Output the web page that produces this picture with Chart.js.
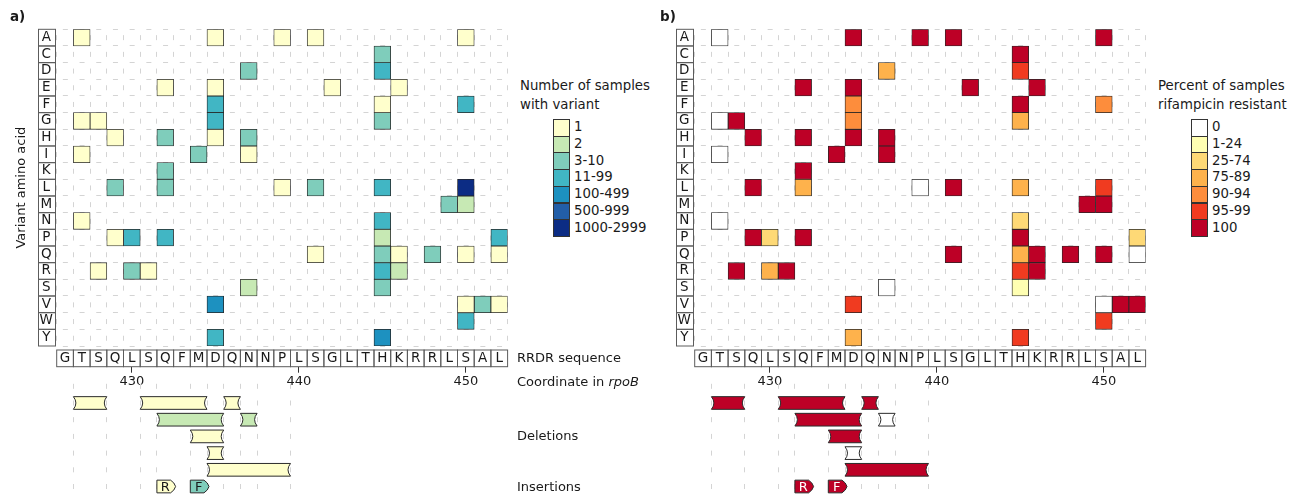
<!DOCTYPE html>
<html lang="en">
<head>
<meta charset="UTF-8">
<title>rpoB RRDR variants</title>
<script src="https://cdn.jsdelivr.net/npm/chart.js"></script>
<style>
  body { margin: 0; background: #fff; }
  #fig { position: relative; width: 1299px; height: 497px; overflow: hidden; background: #fff;
         font-family: 'DejaVu Sans', sans-serif; color: #1a1a1a; }
  #fig canvas { position: absolute; }
  .txt { position: absolute; font-size: 13px; white-space: nowrap; }
  .tag { font-weight: bold; }
  .swatch { position: absolute; width: 17.3px; height: 17.7px; box-sizing: border-box; border: 1px solid #333; }
</style>
</head>
<body>
<div id="fig"></div>
<script>
// ---- data ----
const aminoAcids = ['A','C','D','E','F','G','H','I','K','L','M','N','P','Q','R','S','V','W','Y'];
const rrdrSeq = ['G','T','S','Q','L','S','Q','F','M','D','Q','N','N','P','L','S','G','L','T','H','K','R','R','L','S','A','L'];
const firstCoord = 426;
const coordTicks = [430, 440, 450];

const countLabels = ['1', '2', '3-10', '11-99', '100-499', '500-999', '1000-2999'];
const countColors = ['#ffffcc', '#c7e9b4', '#7fcdbb', '#41b6c4', '#1d91c0', '#225ea8', '#0c2c84'];
const resistLabels = ['0', '1-24', '25-74', '75-89', '90-94', '95-99', '100'];
const resistColors = ['#ffffff', '#ffffb2', '#fed976', '#feb24c', '#fd8d3c', '#f03b20', '#bd0026'];

// substitutions, one entry per cell (bins index into the label lists above)
const subAA = [
  'A','A','A','A','A', 'C', 'D','D', 'E','E','E','E', 'F','F','F', 'G','G','G','G',
  'H','H','H','H', 'I','I','I', 'K', 'L','L','L','L','L','L', 'M','M', 'N','N',
  'P','P','P','P','P', 'Q','Q','Q','Q','Q','Q', 'R','R','R','R','R', 'S','S',
  'V','V','V','V', 'W', 'Y','Y'];
const subPos = [
  427,435,439,441,450, 445, 437,445, 432,435,442,446, 435,445,450, 427,428,435,445,
  429,432,435,437, 427,434,437, 432, 429,432,439,441,445,450, 449,450, 427,445,
  429,430,432,445,452, 441,445,446,448,450,452, 428,430,431,445,446, 437,445,
  435,450,451,452, 450, 435,445];
const subCount = [
  0,0,0,0,0, 2, 2,3, 0,0,0,0, 3,0,3, 0,0,3,2,
  0,2,0,2, 0,2,0, 2, 2,2,0,2,3,6, 2,1, 0,3,
  0,3,3,1,3, 0,2,0,2,0,0, 0,2,0,3,1, 1,2,
  4,0,2,0, 3, 3,4];
const subResist = [
  0,6,6,6,6, 6, 3,5, 6,6,6,6, 4,6,4, 0,6,4,3,
  6,6,6,6, 0,6,6, 6, 6,3,0,6,3,5, 6,6, 0,2,
  6,2,6,6,2, 6,3,6,6,6,0, 6,3,6,5,6, 0,1,
  5,0,6,6, 5, 3,5];

// deletions (first..last deleted residue) and insertions
const delFrom = [427, 431, 436, 432, 437, 434, 435, 435];
const delTo = [428, 434, 436, 435, 437, 435, 435, 439];
const delRow = [1, 1, 1, 2, 2, 3, 4, 5];
const delCount = [0, 0, 0, 1, 1, 0, 0, 0];
const delResist = [6, 6, 6, 6, 0, 6, 0, 6];
const insPos = [432, 434];
const insAA = ['R', 'F'];
const insRow = 6;
const insCount = [0, 2];
const insResist = [6, 6];

// ---- drawing ----
Chart.defaults.font.family = "'DejaVu Sans', sans-serif";
Chart.defaults.font.size = 13;
Chart.defaults.color = '#1a1a1a';

const fig = document.getElementById('fig');
const GRID = '#d4d4d4';
const darkFills = ['#bd0026', '#f03b20', '#1d91c0', '#225ea8', '#0c2c84'];

// gray boxes around the amino acid and sequence tick labels
const boxedTicks = {
  id: 'boxedTicks',
  afterDraw(chart) {
    const ctx = chart.ctx;
    const xs = chart.scales.x, ys = chart.scales.y;
    const rowH = Math.abs(ys.getPixelForValue(1) - ys.getPixelForValue(0));
    const colW = Math.abs(xs.getPixelForValue(firstCoord + 1) - xs.getPixelForValue(firstCoord));
    ctx.save();
    ctx.strokeStyle = '#5c5c5c';
    ctx.lineWidth = 1;
    const bx = Math.round(chart.chartArea.left - 19) + 0.5;
    ys.ticks.forEach((t, i) => {
      ctx.strokeRect(bx, ys.getPixelForTick(i) - rowH / 2, 17, rowH);
    });
    xs.ticks.forEach((t, i) => {
      ctx.strokeRect(xs.getPixelForTick(i) - colW / 2, xs.top + 4, colW, colW);
    });
    ctx.restore();
  }
};

// notched deletion bars and arrow-shaped insertions
const indelShapes = {
  id: 'indelShapes',
  beforeDatasetDraw(chart, args) {
    const ds = chart.data.datasets[args.index];
    if (!ds.shape) return;
    const ctx = chart.ctx;
    ctx.save();
    args.meta.data.forEach((el, i) => {
      const {x, y, base, height} = el.getProps(['x', 'y', 'base', 'height'], true);
      const l = Math.min(x, base), r = Math.max(x, base);
      const t = y - height / 2, b = y + height / 2;
      ctx.beginPath();
      if (ds.shape === 'deletion') {
        ctx.moveTo(l, t);
        ctx.lineTo(r, t);
        ctx.quadraticCurveTo(r - 5, y, r, b);
        ctx.lineTo(l, b);
        ctx.quadraticCurveTo(l + 5, y, l, t);
      } else {
        ctx.moveTo(l, t);
        ctx.lineTo(r - 3, t);
        ctx.quadraticCurveTo(r + 1, t + height * 0.2, r + 2, y);
        ctx.quadraticCurveTo(r + 1, b - height * 0.2, r - 3, b);
        ctx.lineTo(l, b);
      }
      ctx.closePath();
      ctx.fillStyle = el.options.backgroundColor;
      ctx.fill();
      ctx.strokeStyle = '#2b2b2b';
      ctx.lineWidth = 1;
      ctx.stroke();
      if (ds.shape === 'insertion') {
        ctx.fillStyle = darkFills.includes(el.options.backgroundColor) ? '#ffffff' : '#1a1a1a';
        ctx.font = "13px 'DejaVu Sans', sans-serif";
        ctx.textAlign = 'center';
        ctx.textBaseline = 'middle';
        ctx.fillText(ds.aa[i], (l + r) / 2, y + 1);
      }
    });
    ctx.restore();
    return false;
  }
};

function addText(html, x, cy, opts = {}) {
  const d = document.createElement('div');
  d.className = 'txt' + (opts.cls ? ' ' + opts.cls : '');
  d.innerHTML = html;
  const lh = 16;
  d.style.left = x + 'px';
  d.style.top = (cy - lh / 2) + 'px';
  d.style.lineHeight = lh + 'px';
  if (opts.size) d.style.fontSize = opts.size + 'px';
  fig.appendChild(d);
}

function addCanvas(left, top, w, h) {
  const c = document.createElement('canvas');
  c.width = w; c.height = h;
  c.style.left = left + 'px'; c.style.top = top + 'px';
  c.style.width = w + 'px'; c.style.height = h + 'px';
  fig.appendChild(c);
  return c;
}

function buildPanel(p) {
  // heatmap + sequence row + coordinate axis
  const cellSets = p.labels.map((lab, k) => ({
    label: lab,
    backgroundColor: p.colors[k],
    data: subPos.map((pos, i) => {
      const r = aminoAcids.indexOf(subAA[i]);
      return {x: pos, y: [r - 0.5, r + 0.5], bin: p.subBins[i]};
    }).filter(d => d.bin === k)
  }));

  new Chart(addCanvas(p.dx, 0, 520, 400), {
    type: 'bar',
    data: {datasets: cellSets},
    options: {
      responsive: false,
      animation: false,
      events: [],
      layout: {padding: {left: 0, top: 29.3, right: 12.4, bottom: 8}},
      datasets: {bar: {grouped: false, barPercentage: 1, categoryPercentage: 1,
        borderWidth: 0.8, borderColor: '#262626', borderSkipped: false}},
      plugins: {legend: {display: false}, tooltip: {enabled: false}},
      scales: {
        x: {
          type: 'linear', min: 425.5, max: 452.5, offset: false, weight: 0,
          afterBuildTicks: s => { s.ticks = rrdrSeq.map((_, i) => ({value: firstCoord + i})); },
          afterFit: s => { s.height = 20.7; },
          ticks: {autoSkip: false, maxRotation: 0, padding: 4.2, font: {size: 13.5},
            callback: v => rrdrSeq[v - firstCoord]},
          grid: {offset: true, drawTicks: false, color: GRID},
          border: {display: false, dash: [5, 11.7], dashOffset: 10.85}
        },
        xc: {
          type: 'linear', position: 'bottom', axis: 'x', min: 425.5, max: 452.5, offset: false, weight: 1,
          afterBuildTicks: s => { s.ticks = coordTicks.map(v => ({value: v})); },
          afterFit: s => { s.height = 25.3; },
          ticks: {autoSkip: false, maxRotation: 0, padding: 1.2},
          grid: {offset: false, drawOnChartArea: false, tickLength: 6, tickColor: '#333'},
          border: {display: false}
        },
        y: {
          type: 'linear', reverse: true, min: -0.5, max: 18.5, offset: false,
          afterBuildTicks: s => { s.ticks = aminoAcids.map((_, i) => ({value: i})); },
          afterFit: s => { s.width = 56.7; },
          ticks: {autoSkip: false, crossAlign: 'center', padding: 3.75, font: {size: 13.5},
            callback: v => aminoAcids[v]},
          grid: {offset: true, drawTicks: false, color: GRID},
          border: {display: false, dash: [5, 11.7], dashOffset: 10.85},
          title: {display: !!p.yTitle, text: p.yTitle || '', padding: {top: 14.2, bottom: 0}, font: {size: 13}}
        }
      }
    },
    plugins: [boxedTicks]
  });

  // deletions and insertions
  new Chart(addCanvas(p.dx, 375, 520, 122), {
    type: 'bar',
    data: {datasets: [
      {
        shape: 'deletion',
        data: delFrom.map((s, i) => ({y: delRow[i], x: [s - 0.5, delTo[i] + 0.5]})),
        backgroundColor: p.delBins.map(b => p.colors[b])
      },
      {
        shape: 'insertion',
        aa: insAA,
        data: insPos.map(pos => ({y: insRow, x: [pos - 0.5, pos + 0.5]})),
        backgroundColor: p.insBins.map(b => p.colors[b])
      }
    ]},
    options: {
      indexAxis: 'y',
      responsive: false,
      animation: false,
      events: [],
      layout: {padding: {left: 56.7, top: 6, right: 12.4, bottom: 3}},
      datasets: {bar: {grouped: false, barPercentage: 0.76, categoryPercentage: 1}},
      plugins: {legend: {display: false}, tooltip: {enabled: false}},
      scales: {
        x: {
          type: 'linear', position: 'top', min: 425.5, max: 452.5, offset: false,
          afterBuildTicks: s => {
            const edges = [...new Set(delFrom.map(v => v - 0.5).concat(delTo.map(v => v + 0.5)))];
            s.ticks = edges.sort((a, b) => a - b).map(v => ({value: v}));
          },
          afterFit: s => { s.height = 0; },
          ticks: {display: false},
          grid: {offset: false, drawTicks: false, color: GRID},
          border: {display: false, dash: [5, 11.7], dashOffset: 13.9}
        },
        y: {
          type: 'linear', display: false, reverse: true, min: -0.317, max: 6.449, offset: false,
          afterBuildTicks: s => { s.ticks = [1, 2, 3, 4, 5, 6].map(v => ({value: v})); }
        }
      }
    },
    plugins: [indelShapes]
  });

  // legend
  p.legendTitle.forEach((t, i) => addText(t, p.dx + 520, 85.5 + i * 19, {size: 13.3}));
  p.labels.forEach((lab, i) => {
    const sw = document.createElement('div');
    sw.className = 'swatch';
    sw.style.left = (p.dx + 553) + 'px';
    sw.style.top = (119 + i * 16.7) + 'px';
    sw.style.background = p.colors[i];
    fig.appendChild(sw);
    addText(lab, p.dx + 574, 127.35 + i * 16.7, {size: 13.3});
  });
  addText(p.tag, p.tagX, 16, {cls: 'tag', size: 13.5});
}

buildPanel({
  dx: 0, tag: 'a)', tagX: 10, yTitle: 'Variant amino acid',
  labels: countLabels, colors: countColors,
  subBins: subCount, delBins: delCount, insBins: insCount,
  legendTitle: ['Number of samples', 'with variant']
});
buildPanel({
  dx: 638, tag: 'b)', tagX: 660,
  labels: resistLabels, colors: resistColors,
  subBins: subResist, delBins: delResist, insBins: insResist,
  legendTitle: ['Percent of samples', 'rifampicin resistant']
});

addText('RRDR sequence', 517, 358);
addText('Coordinate in <i>rpoB</i>', 517, 382);
addText('Deletions', 517, 436);
addText('Insertions', 517, 487);
</script>
</body>
</html>
